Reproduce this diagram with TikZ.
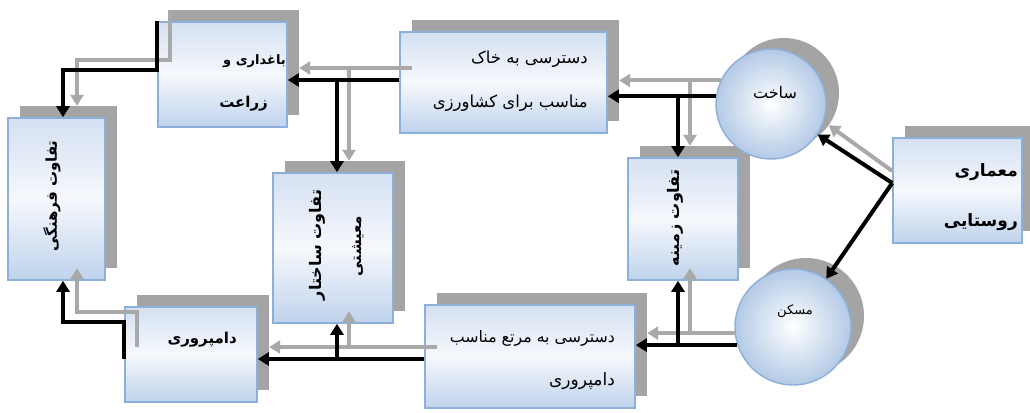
\documentclass[tikz,border=0pt]{standalone}
\usepackage{fontspec}
\usetikzlibrary{arrows.meta}
\TeXXeTstate=1
\newfontfamily\farsi[Script=Arabic]{DejaVu Sans}
\newcommand\rl[1]{\beginR #1\endR}

\definecolor{shadowgray}{HTML}{A4A4A4}
\definecolor{linkgray}{HTML}{A9A9A9}
\definecolor{edgeblue}{HTML}{8DB0DA}
\definecolor{facetop}{HTML}{D4E1F2}
\definecolor{facemid}{HTML}{F6F8FC}
\definecolor{facebot}{HTML}{BFD3EC}
\definecolor{discout}{HTML}{B3CAE6}

\tikzset{
  panelface/.style={draw=edgeblue, line width=1.6pt, top color=facetop,
    bottom color=facebot, middle color=facemid, inner sep=0pt},
  panelshade/.style={fill=shadowgray, draw=none, inner sep=0pt},
  disc/.style={circle, draw=edgeblue, line width=1.4pt, inner color=white,
    outer color=discout, inner sep=0pt},
  discshade/.style={circle, fill=shadowgray, draw=none, inner sep=0pt},
  blk/.style={draw=black, line width=4pt, -{Triangle[length=11pt,width=13pt]}},
  gry/.style={draw=linkgray, line width=4pt, -{Triangle[length=11pt,width=13pt]}},
  txt/.style={font=\farsi\fontsize{#1}{#1}\selectfont, inner sep=0pt},
  txtb/.style={font=\farsi\bfseries\fontsize{#1}{#1}\selectfont, inner sep=0pt},
}

% box with its grey drop shadow: name, centre x, centre y, width, height
\newcommand\panel[5]{%
  \node[panelshade, minimum width=#4pt, minimum height=#5pt] (#1sh)
    at ([shift={(12,-12)}]#2,#3) {};
  \node[panelface, minimum width=#4pt, minimum height=#5pt] (#1) at (#2,#3) {};
}
% round node with its grey drop shadow: name, centre x, centre y, diameter
\newcommand\roundel[4]{%
  \node[discshade, minimum size=#4pt] (#1sh) at ([shift={(13,-11)}]#2,#3) {};
  \node[disc, minimum size=#4pt] (#1) at (#2,#3) {};
}

\begin{document}
\begin{tikzpicture}[x=1pt, y=-1pt]
\fill[white] (0,0) rectangle (1030,412);
\useasboundingbox (0,0) rectangle (1030,412);

% boxes and round nodes
\panel{farm}{222.5}{74.5}{129}{105}
\panel{soil}{503.5}{82.5}{207}{101}
\panel{rural}{957.5}{190.5}{129}{105}
\panel{culture}{56.5}{199}{97}{162}
\panel{liveli}{333}{248}{120}{150}
\panel{context}{683}{219}{110}{122}
\panel{pasture}{530}{356.5}{210}{103}
\panel{herd}{191}{354.5}{132}{95}
\roundel{build}{771}{104}{110}
\roundel{home}{793}{327}{116}

% bend points of the connectors
\coordinate (g1) at (349,68);
\coordinate (b1) at (337,80);
\coordinate (g2) at (690,81);
\coordinate (b2) at (678,96);
\coordinate (g3) at (77,60);
\coordinate (b3) at (63,70);
\coordinate (g4) at (77,312);
\coordinate (b4) at (63,322);
\coordinate (g5) at (349,347);
\coordinate (b5) at (337,359);
\coordinate (g6) at (690,333);
\coordinate (b6) at (678,345);

% grey connectors
\draw[gry] (rural.west |- 0,171) -- (buildsh);
\draw[gry] (build.155) -- (soilsh.east |- build.155);
\draw[gry] (g2) -- (g2 |- contextsh.north);
\draw[gry] (soilsh.west |- g1) -- (farmsh.east |- g1);
\draw[gry] (g1) -- (g1 |- livelish.north);
\draw[gry] (farmsh.north west) |- (g3) -- (g3 |- culturesh.north);
\draw[gry] (home.186) -- (pasturesh.east |- home.186);
\draw[gry] (g6) -- (g6 |- contextsh.south);
\draw[gry] (pasturesh.west |- g5) -- (herdsh.east |- g5);
\draw[gry] (g5) -- (g5 |- livelish.south);
\draw[gry] (herdsh.west |- 0,347) |- (g4) -- (g4 |- culturesh.south);

% black connectors
\draw[blk] (rural.west |- 0,183) -- (build);
\draw[blk] (rural.west |- 0,183) -- (home);
\draw[blk] (build.172) -- (soil.east |- build.172);
\draw[blk] (b2) -- (b2 |- context.north);
\draw[blk] (soil.west |- b1) -- (farm.east |- b1);
\draw[blk] (b1) -- (b1 |- liveli.north);
\draw[blk] (farm.north west) |- (b3) -- (b3 |- culture.north);
\draw[blk] (home.198) -- (pasture.east |- home.198);
\draw[blk] (b6) -- (b6 |- context.south);
\draw[blk] (pasture.west |- b5) -- (herd.east |- b5);
\draw[blk] (b5) -- (b5 |- liveli.south);
\draw[blk] (herd.west |- 0,359) |- (b4) -- (b4 |- culture.south);

% labels
\node[txtb=13, anchor=east] (farmA) at (286,61) {\rl{باغداری و}};
\node[txtb=15, anchor=east] (farmB) at (268,104) {\rl{زراعت}};
\node[txt=16.5, anchor=east] (soilA) at (588,59) {\rl{دسترسی به خاک}};
\node[txt=16.5, anchor=east] (soilB) at (588,103) {\rl{مناسب برای کشاورزی}};
\node[txt=16] (buildT) at (775,93) {\rl{ساخت}};
\node[txt=13] (homeT) at (795,311) {\rl{مسکن}};
\node[txtb=17, anchor=east] (ruralA) at (1018,172) {\rl{معماری}};
\node[txtb=17, anchor=east] (ruralB) at (1018,222) {\rl{روستایی}};
\node[txt=15.8, anchor=east] (pastureA) at (615,338) {\rl{دسترسی به مرتع مناسب}};
\node[txt=17, anchor=east] (pastureB) at (615,381) {\rl{دامپروری}};
\node[txtb=15, anchor=east] (herdT) at (237,340) {\rl{دامپروری}};
\node[txtb=15, rotate=90] (cultureT) at (52,196) {\rl{تفاوت فرهنگی}};
\node[txtb=16, rotate=90] (liveliA) at (317,245) {\rl{تفاوت ساختار}};
\node[txtb=15, rotate=90] (liveliB) at (358,246) {\rl{معیشتی}};
\node[txtb=16, rotate=90] (contextT) at (675,218) {\rl{تفاوت زمینه}};
\end{tikzpicture}
\end{document}
